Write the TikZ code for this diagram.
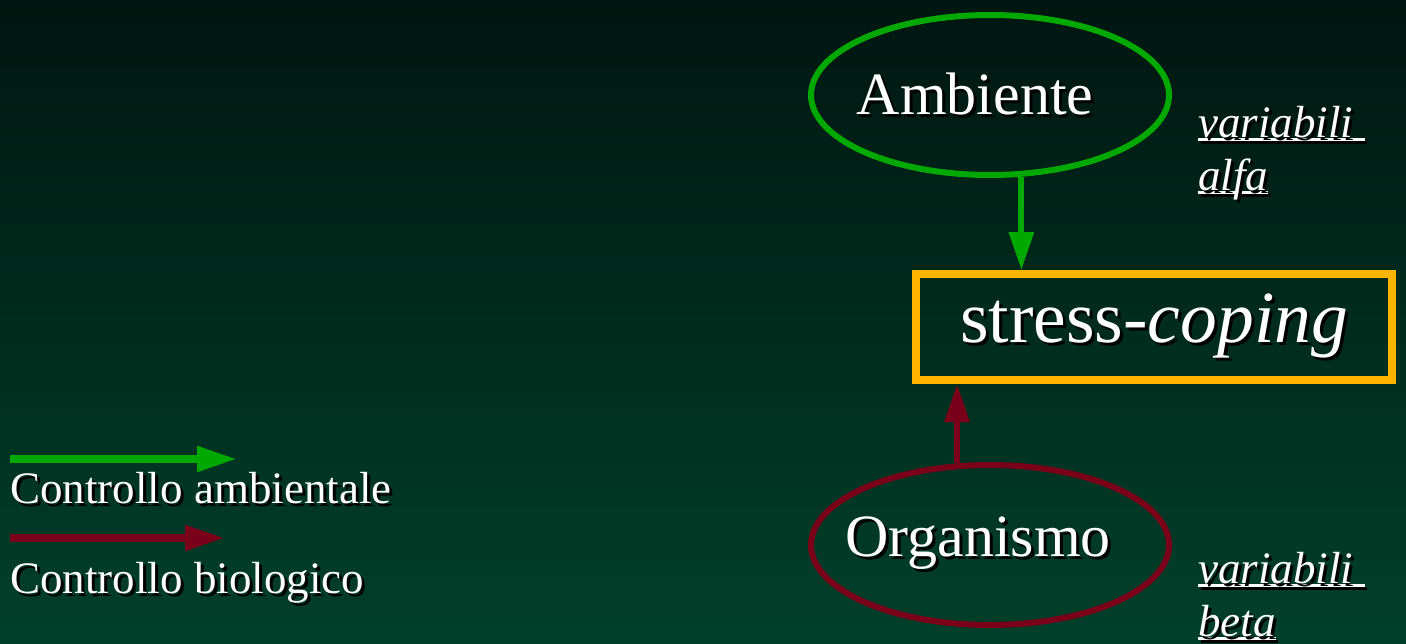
\documentclass[tikz,border=0pt]{standalone}
\usepackage{fontspec}
\setmainfont{Liberation Serif}
\usetikzlibrary{shapes.geometric,arrows.meta}
\definecolor{bgtop}{RGB}{0,22,16}
\definecolor{bgbot}{RGB}{0,64,42}
\definecolor{envgreen}{RGB}{0,168,0}
\definecolor{biored}{RGB}{122,0,25}
\definecolor{boxorange}{RGB}{255,180,0}
\newcommand\shd[1]{\leavevmode\rlap{\hspace{1.5pt}\raisebox{-1.5pt}{\color{black}#1}}#1}
\newcommand\ulin[1]{\setbox0=\hbox{#1}\rlap{\hspace{1.2pt}\color{black}\rule[-3.7pt]{\wd0}{1.5pt}}\rlap{\rule[-2.2pt]{\wd0}{1.5pt}}\box0}
\tikzset{
  txt/.style={text=white, inner sep=0pt},
  bigfont/.style={font=\fontsize{30pt}{36pt}\selectfont},
  smallfont/.style={font=\fontsize{22.5pt}{27pt}\selectfont},
  envell/.style={ellipse, draw=envgreen, line width=3pt, minimum width=179pt, minimum height=80pt, inner sep=0pt, txt, bigfont},
  bioell/.style={ellipse, draw=biored, line width=3pt, minimum width=179pt, minimum height=80pt, inner sep=0pt, txt, bigfont},
  scbox/.style={rectangle, draw=boxorange, line width=4pt, minimum width=238pt, minimum height=53pt, inner sep=0pt, txt, font=\fontsize{36.75pt}{44pt}\selectfont},
  garrow/.style={draw=envgreen, line width=3pt, -{Triangle[length=19pt,width=12pt]}, envgreen},
  rarrow/.style={draw=biored, line width=3pt, -{Triangle[length=19pt,width=12pt]}, biored},
  legg/.style={draw=envgreen, line width=4pt, -{Triangle[length=20pt,width=12pt]}, envgreen},
  legr/.style={draw=biored, line width=4pt, -{Triangle[length=20pt,width=12pt]}, biored},
}
\begin{document}
\begin{tikzpicture}[x=0.5pt,y=0.5pt]
\fill[top color=bgtop, bottom color=bgbot] (0,0) rectangle (1406,-643);
\useasboundingbox (0,0) rectangle (1406,-643);

\node[envell] (A) at (990,-95) {\raisebox{1.5pt}{\makebox[0pt]{\shd{Ambiente}\kern15pt}}};
\node[scbox] (S) at (1154,-327) {\shd{stress-\textit{coping}}};
\node[bioell] (O) at (990,-545) {\makebox[0pt]{\shd{Organismo}\kern12pt}};

\draw[garrow] (A.-69.2) -- (A.-69.2 |- S.north);
\draw[rarrow] (O.112.1) -- (O.112.1 |- S.south);

\node[txt, smallfont, anchor=base west] (va) at (1198,-137) {\ulin{\shd{\textit{variabili}}\ }};
\node[txt, smallfont, anchor=base west] (al) at (1198,-190) {\ulin{\shd{\textit{alfa}}}};
\node[txt, smallfont, anchor=base west] (vb) at (1198,-583) {\ulin{\shd{\textit{variabili}}\ }};
\node[txt, smallfont, anchor=base west] (be) at (1198,-636) {\ulin{\shd{\textit{beta}}}};

\coordinate (g1) at (10,-459);
\coordinate (g2) at (237,-459);
\coordinate (r1) at (10,-538);
\coordinate (r2) at (225,-538);
\draw[legg] (g1) -- (g2);
\draw[legr] (r1) -- (r2);
\node[txt, smallfont, anchor=base west] (la) at (10,-503) {\shd{Controllo ambientale}};
\node[txt, smallfont, anchor=base west] (lb) at (10,-593) {\shd{Controllo biologico}};
\end{tikzpicture}
\end{document}
